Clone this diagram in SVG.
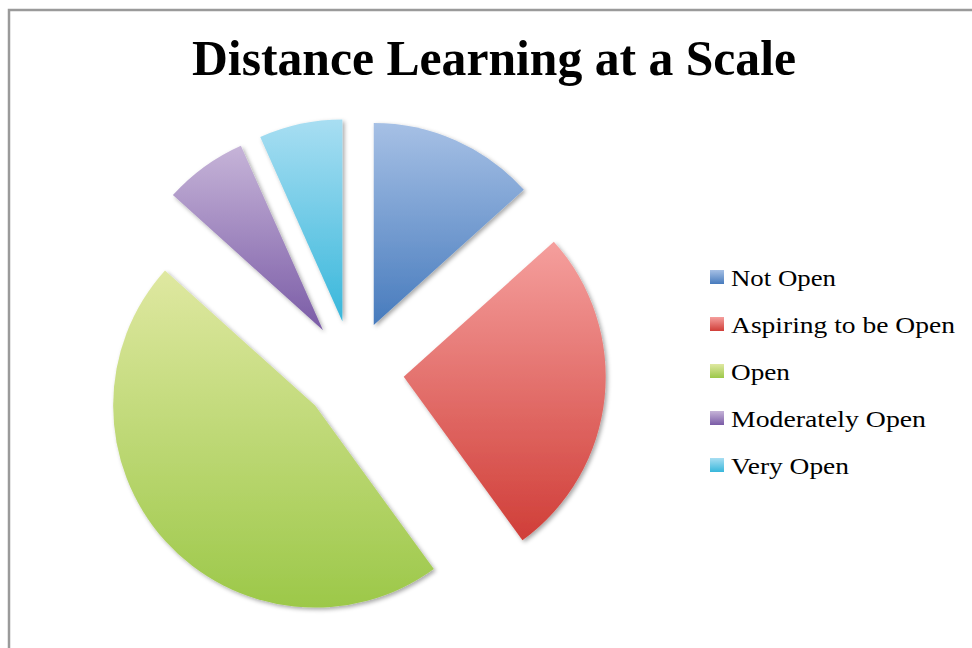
<svg xmlns="http://www.w3.org/2000/svg" width="972" height="648" viewBox="0 0 972 648">
  <defs>
    <style>
      .title { font-family: "Liberation Serif", "DejaVu Serif", serif; font-weight: bold; font-size: 50px; fill: #000; }
      .leg { font-family: "Liberation Serif", "DejaVu Serif", serif; font-size: 23px; fill: #000; }
      .slice { filter: url(#shadow); }
      .border { fill: none; stroke: #9a9a9a; stroke-width: 2.5; }
    </style>
    <filter id="shadow" x="-10%" y="-10%" width="130%" height="130%">
      <feDropShadow dx="2" dy="2" stdDeviation="2" flood-color="#000" flood-opacity="0.35"/>
    </filter>
    <linearGradient id="gBlue" x1="0" y1="0" x2="0" y2="1">
      <stop offset="0" stop-color="#a6c0e5"/>
      <stop offset="1" stop-color="#477bbd"/>
    </linearGradient>
    <linearGradient id="gRed" x1="0" y1="0" x2="0" y2="1">
      <stop offset="0" stop-color="#f59f9d"/>
      <stop offset="1" stop-color="#d03e38"/>
    </linearGradient>
    <linearGradient id="gGreen" x1="0" y1="0" x2="0" y2="1">
      <stop offset="0" stop-color="#dfe8a1"/>
      <stop offset="1" stop-color="#9cc849"/>
    </linearGradient>
    <linearGradient id="gPurple" x1="0" y1="0" x2="0" y2="1">
      <stop offset="0" stop-color="#c6b4d8"/>
      <stop offset="1" stop-color="#7a5ba6"/>
    </linearGradient>
    <linearGradient id="gCyan" x1="0" y1="0" x2="0" y2="1">
      <stop offset="0" stop-color="#a8def2"/>
      <stop offset="1" stop-color="#38b7db"/>
    </linearGradient>
  </defs>

  <rect width="972" height="648" fill="#fff"/>
  <path class="border" d="M9,648 L9,10 L972,10"/>

  <text class="title" x="192" y="75" textLength="604" lengthAdjust="spacingAndGlyphs">Distance Learning at a Scale</text>

  <g id="slice-not-open">
    <path class="slice" fill="url(#gBlue)" d="M373.74,324.91 L373.74,122.91 A202,202 0 0 1 523.85,189.75 Z"/>
  </g>
  <g id="slice-aspiring">
    <path class="slice" fill="url(#gRed)" d="M403.72,376.83 L553.83,241.67 A202,202 0 0 1 522.46,540.25 Z"/>
  </g>
  <g id="slice-open">
    <path class="slice" fill="url(#gGreen)" d="M315.1,405.62 L433.84,569.04 A202,202 0 0 1 165.0,270.46 Z"/>
  </g>
  <g id="slice-moderately-open">
    <path class="slice" fill="url(#gPurple)" d="M323.02,330.24 L172.92,195.08 A202,202 0 0 1 240.87,145.71 Z"/>
  </g>
  <g id="slice-very-open">
    <path class="slice" fill="url(#gCyan)" d="M342.4,321.62 L260.25,137.09 A202,202 0 0 1 342.4,119.62 Z"/>
  </g>

  <g id="legend">
    <g id="legend-not-open">
      <rect x="710" y="270" width="14" height="14" fill="url(#gBlue)"/>
      <text class="leg" x="731" y="286" textLength="105" lengthAdjust="spacingAndGlyphs">Not Open</text>
    </g>
    <g id="legend-aspiring">
      <rect x="710" y="317" width="14" height="14" fill="url(#gRed)"/>
      <text class="leg" x="731" y="333" textLength="224" lengthAdjust="spacingAndGlyphs">Aspiring to be Open</text>
    </g>
    <g id="legend-open">
      <rect x="710" y="364" width="14" height="14" fill="url(#gGreen)"/>
      <text class="leg" x="731" y="380" textLength="59" lengthAdjust="spacingAndGlyphs">Open</text>
    </g>
    <g id="legend-moderately-open">
      <rect x="710" y="411" width="14" height="14" fill="url(#gPurple)"/>
      <text class="leg" x="731" y="427" textLength="195" lengthAdjust="spacingAndGlyphs">Moderately Open</text>
    </g>
    <g id="legend-very-open">
      <rect x="710" y="458" width="14" height="14" fill="url(#gCyan)"/>
      <text class="leg" x="731" y="474" textLength="118" lengthAdjust="spacingAndGlyphs">Very Open</text>
    </g>
  </g>
</svg>
